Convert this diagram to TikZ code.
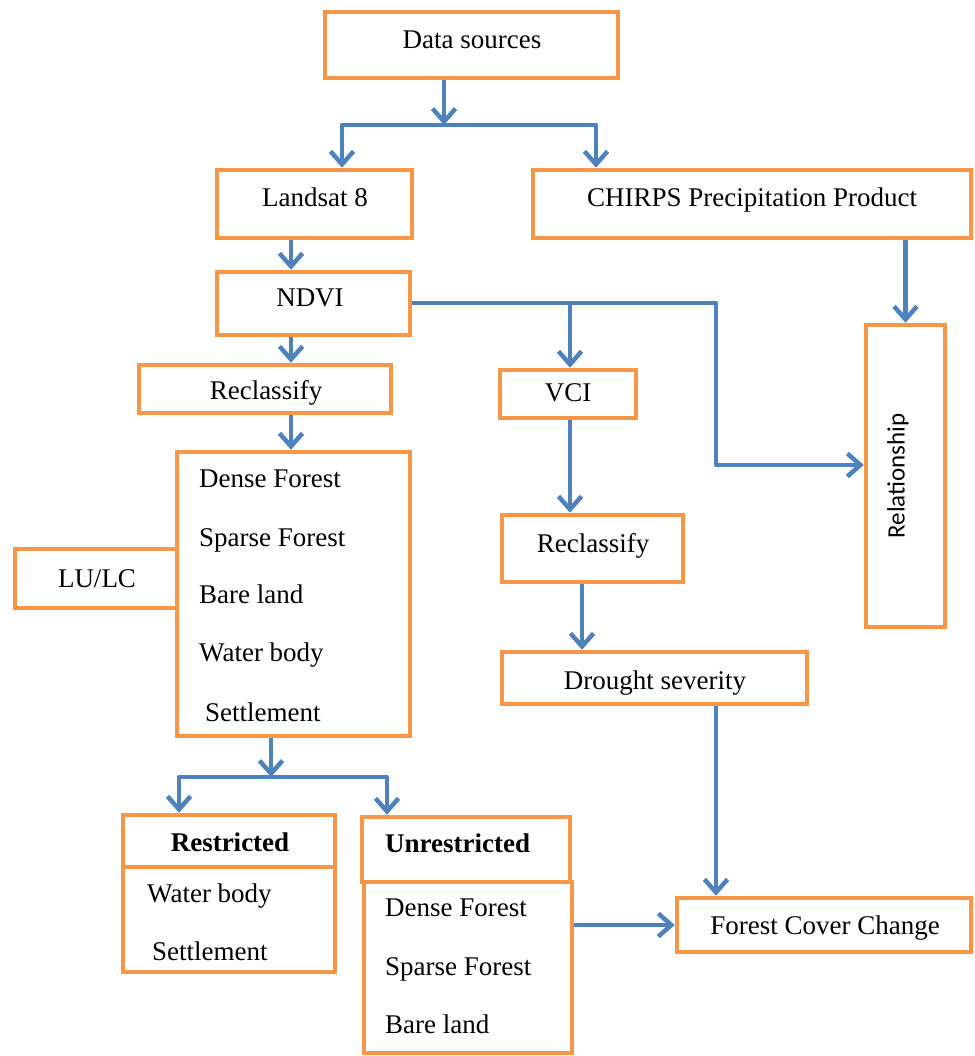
\documentclass[tikz,border=0pt]{standalone}
\usepackage{fontspec}
\setmainfont{Liberation Serif}
\newfontfamily\relfont{Carlito}
\usetikzlibrary{arrows.meta}
\definecolor{boxorange}{HTML}{F79646}
\definecolor{arrblue}{HTML}{4F81BD}
\tikzset{
  box/.style={draw=boxorange, line width=4.5pt, rectangle, inner sep=0pt},
  lbl/.style={inner sep=0pt, font=\fontsize{27}{32}\selectfont, text height=18pt, text depth=0pt},
  lbll/.style={lbl, anchor=west},
  arr/.style={draw=arrblue, line width=4.5pt, line join=round, -{Straight Barb[length=13pt,width=23pt]}},
  ln/.style={draw=arrblue, line width=4.5pt, line join=round}
}
\begin{document}
\begin{tikzpicture}[x=1pt,y=-1pt]
\useasboundingbox (0,0) rectangle (974,1056);
% boxes
\node[box, minimum width=293pt, minimum height=66pt] (ds) at (471.5,45) {};
\node[box, minimum width=195pt, minimum height=68pt] (ls) at (314.5,204) {};
\node[box, minimum width=438pt, minimum height=68pt] (ch) at (752,204) {};
\node[box, minimum width=193pt, minimum height=63pt] (ndvi) at (313.5,303.5) {};
\node[box, minimum width=252pt, minimum height=48pt] (rc1) at (265,389) {};
\node[box, minimum width=136pt, minimum height=48pt] (vci) at (568,394) {};
\node[box, minimum width=79pt, minimum height=302pt] (rel) at (905.5,476) {};
\node[box, minimum width=162pt, minimum height=59pt] (lulc) at (96,578.5) {};
\node[box, minimum width=233pt, minimum height=284pt] (lst) at (293.5,594) {};
\node[box, minimum width=181pt, minimum height=67pt] (rc2) at (592.5,548.5) {};
\node[box, minimum width=305pt, minimum height=52pt] (dr) at (654.5,678) {};
\node[box, minimum width=294pt, minimum height=54pt] (fcc) at (824,925) {};
\node[box, minimum width=212pt, minimum height=52pt] (rh) at (229,841) {};
\node[box, minimum width=212pt, minimum height=105pt] (rb) at (229,919.5) {};
\node[box, minimum width=208pt, minimum height=65pt] (uh) at (466,849.5) {};
\node[box, minimum width=208pt, minimum height=171pt] (ub) at (468,967.5) {};
% texts
\node[lbl] (tds) at (472,40) {Data sources};
\node[lbl] (tls) at (315,198) {Landsat 8};
\node[lbl] (tch) at (752,198) {CHIRPS Precipitation Product};
\node[lbl] (tndvi) at (310,297) {NDVI};
\node[lbl] (trc1) at (266,390) {Reclassify};
\node[lbl] (tvci) at (568,392) {VCI};
\node[inner sep=0pt, rotate=90, font=\relfont\fontsize{25}{30}\selectfont] (trel) at (898,476) {Relationship};
\node[lbl] (tlulc) at (97,578) {LU/LC};
\node[lbll] (l1) at (199,478) {Dense Forest};
\node[lbll] (l2) at (199,537) {Sparse Forest};
\node[lbll] (l3) at (199,594) {Bare land};
\node[lbll] (l4) at (199,652) {Water body};
\node[lbll] (l5) at (205,712) {Settlement};
\node[lbl] (trc2) at (593,543) {Reclassify};
\node[lbl] (tdr) at (655,680) {Drought severity};
\node[lbl] (tfcc) at (825,925) {Forest Cover Change};
\node[lbl, font=\fontsize{27}{32}\selectfont\bfseries] (trh) at (230,842) {Restricted};
\node[lbll] (r1) at (147,893) {Water body};
\node[lbll] (r2) at (152,951) {Settlement};
\node[lbll, font=\fontsize{27}{32}\selectfont\bfseries] (tuh) at (385,843) {Unrestricted};
\node[lbll] (u1) at (385,907) {Dense Forest};
\node[lbll] (u2) at (385,966) {Sparse Forest};
\node[lbll] (u3) at (385,1024) {Bare land};
% connector coordinates
\coordinate (j1) at (444,125);
\coordinate (j1l) at (342,125);
\coordinate (j1r) at (596,125);
\coordinate (x291) at (291,0);
\coordinate (n1) at (716,303);
\coordinate (n2) at (716,465);
\coordinate (v1) at (570,303);
\coordinate (x582) at (582,0);
\coordinate (j2) at (271,777);
\coordinate (j2l) at (179,777);
\coordinate (j2r) at (387,777);
% connectors
\draw[arr] (ds.south -| j1) -- (j1);
\draw[arr] (j1) -- (j1l) -- (j1l |- ls.north);
\draw[arr] (j1) -- (j1r) -- (j1r |- ch.north);
\draw[arr] (ls.south -| x291) -- (ndvi.north -| x291);
\draw[arr] (ndvi.south -| x291) -- (rc1.north -| x291);
\draw[arr] (rc1.south -| x291) -- (lst.north -| x291);
\draw[arr] (ndvi.east |- n1) -- (n1) -- (n2) -- (n2 -| rel.west);
\draw[arr] (v1) -- (v1 |- vci.north);
\draw[arr] (ch.south -| rel.north) -- (rel.north);
\draw[arr] (vci.south -| v1) -- (rc2.north -| v1);
\draw[arr] (rc2.south -| x582) -- (dr.north -| x582);
\draw[arr] (dr.south -| n1) -- (fcc.north -| n1);
\draw[arr] (lst.south -| j2) -- (j2);
\draw[arr] (j2) -- (j2l) -- (j2l |- rh.north);
\draw[arr] (j2) -- (j2r) -- (j2r |- uh.north);
\draw[arr] (ub.east |- fcc.west) -- (fcc.west);
\end{tikzpicture}
\end{document}
